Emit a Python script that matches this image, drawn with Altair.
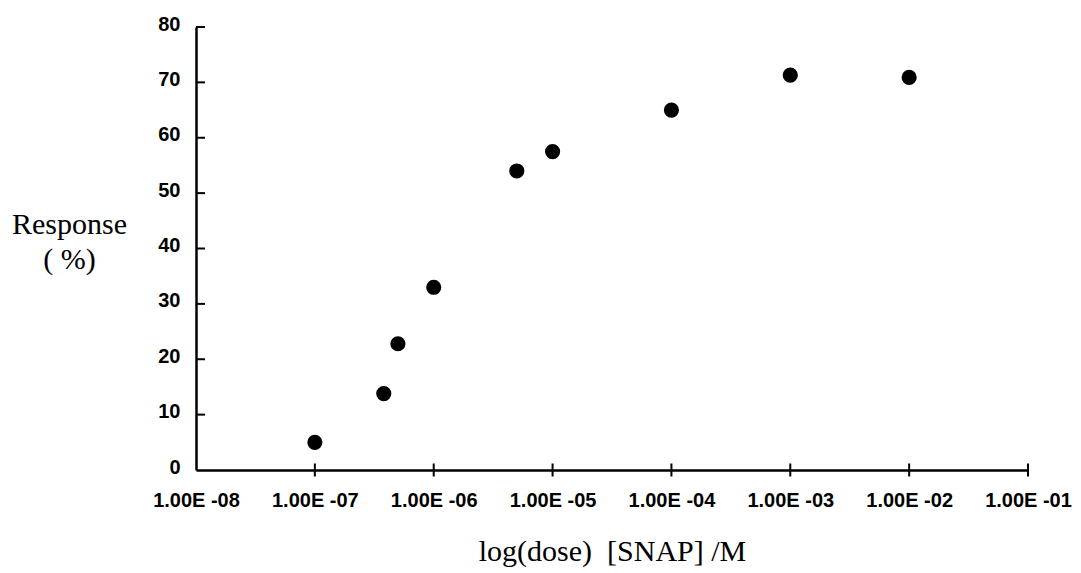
import altair as alt
import pandas as pd

# data
dose = [1e-7, 3.8e-7, 5e-7, 1e-6, 5e-6, 1e-5, 1e-4, 1e-3, 1e-2]
response = [5.0, 13.8, 22.8, 33.0, 54.0, 57.5, 65.0, 71.3, 70.9]

x_ticks = [1e-8, 1e-7, 1e-6, 1e-5, 1e-4, 1e-3, 1e-2, 1e-1]
x_cross_ticks = [1e-7, 1e-6, 1e-5, 1e-4, 1e-3, 1e-2, 1e-1]
y_ticks = [0, 10, 20, 30, 40, 50, 60, 70, 80]
y_inner_ticks = [10, 20, 30, 40, 50, 60, 70, 80]

df = pd.DataFrame({"dose": dose, "response": response})
xt = pd.DataFrame({"xt": x_cross_ticks})
yt = pd.DataFrame({"yt": y_inner_ticks})

xscale = alt.Scale(type="log", domain=[1e-8, 1e-1], nice=False)
yscale = alt.Scale(domain=[0, 80], nice=False, zero=False)

label_font = "Liberation Sans"
title_font = "Liberation Serif"

x_axis = alt.Axis(
    values=x_ticks,
    labelExpr="'1.00E -0' + format(-round(log(datum.value) / LN10), 'd')",
    tickSize=0,
    labelPadding=20,
    labelFont=label_font,
    labelFontWeight="bold",
    labelFontSize=20,
    labelColor="black",
    labelFlush=False,
    labelOverlap=False,
    domainColor="black",
    domainWidth=2.5,
    grid=False,
    title="log(dose)\u00a0 [SNAP] /M",
    titleFont=title_font,
    titleFontSize=30,
    titleFontWeight="normal",
    titleColor="black",
    titleBaseline="alphabetic",
    titleY=90,
)

y_axis = alt.Axis(
    values=y_ticks,
    tickSize=0,
    labelPadding=16,
    labelOffset=-3,
    labelFont=label_font,
    labelFontWeight="bold",
    labelFontSize=20,
    labelColor="black",
    domainColor="black",
    domainWidth=2.5,
    grid=False,
    title=["Response", "( %)"],
    titleAngle=0,
    titleAlign="center",
    titleBaseline="alphabetic",
    titleX=-127,
    titleY=206,
    titleLineHeight=35,
    titleFont=title_font,
    titleFontSize=30,
    titleFontWeight="normal",
    titleColor="black",
)

points = alt.Chart(df).mark_circle(size=230, color="black", opacity=1).encode(
    x=alt.X("dose:Q", scale=xscale, axis=x_axis),
    y=alt.Y("response:Q", scale=yscale, axis=y_axis),
)

xticks = alt.Chart(xt).mark_tick(orient="vertical", size=13, thickness=2, color="black", opacity=1).encode(
    x=alt.X("xt:Q", scale=xscale, axis=x_axis),
    y=alt.Y(datum=0, type="quantitative", scale=yscale, axis=y_axis),
)

yticks = alt.Chart(yt).mark_tick(orient="horizontal", size=9, thickness=2, color="black", opacity=1, xOffset=4.5).encode(
    x=alt.X(datum=1e-8, type="quantitative", scale=xscale, axis=x_axis),
    y=alt.Y("yt:Q", scale=yscale, axis=y_axis),
)

chart = alt.layer(points, xticks, yticks).properties(
    width=832,
    height=443,
    autosize=alt.AutoSizeParams(type="none"),
    padding={"left": 188, "top": 19, "right": 45, "bottom": 98},
    background="white",
).configure_view(stroke=None)

chart.save("out.html", embed_options={"renderer": "svg", "actions": False})
